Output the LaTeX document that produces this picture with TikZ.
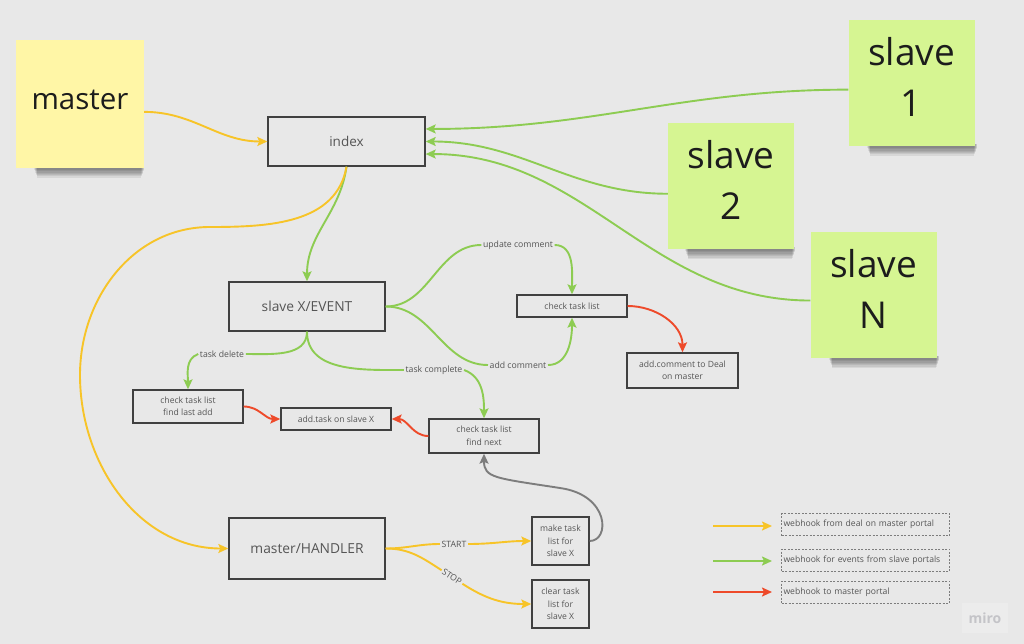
\documentclass[tikz,border=0pt]{standalone}
\usepackage{fontspec}
\setmainfont{Open Sans}
\usetikzlibrary{arrows.meta}
\definecolor{bg}{RGB}{232,232,232}
\definecolor{myyellow}{RGB}{247,196,40}
\definecolor{mygreen}{RGB}{141,204,82}
\definecolor{myred}{RGB}{238,74,42}
\definecolor{mygray}{RGB}{125,125,125}
\definecolor{stickyY}{RGB}{255,246,166}
\definecolor{stickyG}{RGB}{214,245,146}
\definecolor{boxline}{RGB}{64,64,64}
\definecolor{boxtext}{RGB}{85,85,85}
\definecolor{stext}{RGB}{28,28,28}
\begin{document}
\begin{tikzpicture}[x=1pt,y=-1pt,
  tip/.style={-{Stealth[length=10pt,width=9pt,inset=2pt]}},
  conn/.style={line width=1.9pt},
  yline/.style={conn,draw=myyellow},
  gline/.style={conn,draw=mygreen},
  rline/.style={conn,draw=myred},
  grline/.style={conn,draw=mygray},
  ytip/.style={yline,tip,myyellow},
  gtip/.style={gline,tip,mygreen},
  rtip/.style={rline,tip,myred},
  grtip/.style={grline,tip,mygray},
  box/.style={draw=boxline,line width=1.4pt,text=boxtext,align=center,inner sep=0pt},
  bigbox/.style={box,font=\fontsize{13.8}{16}\selectfont},
  smallbox/.style={box,font=\fontsize{8.6}{12.5}\selectfont},
  lbl/.style={fill=bg,inner sep=1.5pt,text=boxtext,font=\fontsize{8.7}{10}\selectfont},
  sticky/.style={minimum width=126pt,minimum height=126pt,inner sep=0pt},
  stxt/.style={text=stext,align=center,inner sep=0pt},
  legbox/.style={draw=mygray,dashed,dash pattern=on 2pt off 1.5pt,line width=0.8pt,minimum width=168pt,minimum height=22pt,
     text width=164pt,align=left,inner xsep=2pt,inner ysep=0pt,text=boxtext,font=\fontsize{8.6}{10}\selectfont}
]
\useasboundingbox[fill=bg] (0,0) rectangle (1024,644);

% sticky shadows
\foreach \sx/\sy in {16/168,849/146,667/249,811/358}{
  \foreach \k in {0,...,6}{
    \fill[black,opacity=0.07] (\sx+18+\k*0.5,\sy-2) rectangle (\sx+128-\k*0.5,\sy+2+\k*1.3);
  }
}
% stickies
\node[sticky,fill=stickyY,minimum width=128pt,minimum height=128pt] (m) at (80,104) {};
\node[stxt,font=\fontsize{29.5}{36}\selectfont] (mt) at (80,100) {master};
\node[sticky,fill=stickyG] (s1) at (911.5,83) {};
\node[stxt,font=\fontsize{37}{51}\selectfont] (s1t) at (911.5,77) {slave\\1};
\node[sticky,fill=stickyG] (s2) at (731,186) {};
\node[stxt,font=\fontsize{37}{51}\selectfont] (s2t) at (731,180) {slave\\2};
\node[sticky,fill=stickyG] (sN) at (873.5,295) {};
\node[stxt,font=\fontsize{37}{51}\selectfont] (sNt) at (873.5,289) {slave\\N};

% boxes
\node[bigbox,minimum width=157pt,minimum height=49pt,font=\fontsize{13.5}{16}\selectfont] (idx) at (346.5,141.5) {index};
\node[bigbox,minimum width=156pt,minimum height=49pt] (ev) at (307,306.5) {slave X/EVENT};
\node[bigbox,minimum width=156pt,minimum height=61pt] (hand) at (307,548.5) {master/HANDLER};
\node[smallbox,minimum width=110pt,minimum height=22pt] (ctl) at (572,306) {check task list};
\node[smallbox,minimum width=111pt,minimum height=35pt] (acd) at (682.5,370.5) {add.comment to Deal\\on master};
\node[smallbox,minimum width=110pt,minimum height=33pt] (fla) at (188,406.5) {check task list\\find last add};
\node[smallbox,minimum width=110pt,minimum height=22pt] (ats) at (336,419) {add.task on slave X};
\node[smallbox,minimum width=110pt,minimum height=34pt] (fn) at (484,436) {check task list\\find next};
\node[smallbox,minimum width=57pt,minimum height=48pt] (mk) at (560.5,541) {make task\\list for\\slave X};
\node[smallbox,minimum width=57pt,minimum height=48pt] (cl) at (560.5,604) {clear task\\list for\\slave X};

% labels
\node[lbl] (uc) at (518,245) {update comment};
\node[lbl] (ac) at (518,365) {add comment};
\node[lbl] (td) at (222,354) {task delete};
\node[lbl] (tc) at (434,370) {task complete};
\node[lbl] (st) at (454,544) {START};
\node[lbl,rotate=-33] (sp) at (452,577) {STOP};

% slaves -> index
\draw[gtip] (s1.186) to[out=180,in=0] (idx.9);
\draw[gtip] (s2.187) to[out=180,in=0] (idx.east);
\draw[gtip] (sN.185) to[out=180,in=0] (idx.351);
% master -> index
\draw[ytip] (m.353) to[out=0,in=180] (idx.west);
% index -> event
\draw[gtip] (idx.south) to[out=-98,in=90] (ev.north);
% index -> handler
\draw[ytip] (idx.south) to[out=-100,in=0] (210,227) to[out=180,in=90] (80,375) to[out=-90,in=180] (hand.west);
% event branches
\draw[gline] (ev.east) to[out=0,in=180] (uc.west);
\draw[gtip] (uc.east) to[out=0,in=90] (ctl.north);
\draw[gline] (ev.east) to[out=0,in=180] (ac.west);
\draw[gtip] (ac.east) to[out=0,in=-90] (ctl.south);
\draw[gline] (ev.south) to[out=-90,in=0] (td.east);
\draw[gtip] (td.west) to[out=200,in=90] (fla.north);
\draw[gline] (ev.south) to[out=-90,in=180] (tc.west);
\draw[gtip] (tc.east) to[out=-20,in=90] (fn.north);
% red
\draw[rtip] (ctl.east) to[out=0,in=90] (acd.north);
\draw[rtip] (fla.east) to[out=0,in=180] (ats.west);
\draw[rtip] (fn.west) to[out=180,in=0] (ats.east);
% gray
\draw[grtip] (mk.east) .. controls (610,541) and (610,495) .. (560,488) .. controls (495,478) and (484,478) .. (fn.south);
% handler -> start/stop
\draw[yline] (hand.east) to[out=0,in=180] (st.west);
\draw[ytip] (st.east) to[out=0,in=180] (mk.west);
\draw[yline] (hand.east) to[out=0,in=147] (sp.west);
\draw[ytip] (sp.east) to[out=-33,in=180] (cl.west);

% legend
\node[legbox] (lg1) at (865.5,524.5) {webhook from deal on master portal};
\node[legbox] (lg2) at (865.5,560) {webhook for events from slave portals};
\node[legbox] (lg3) at (865.5,592) {webhook to master portal};
\coordinate (la1) at (713,526); \coordinate (lb1) at (772,526);
\coordinate (la2) at (713,561); \coordinate (lb2) at (772,561);
\coordinate (la3) at (713,592); \coordinate (lb3) at (772,592);
\draw[ytip] (la1) -- (lb1);
\draw[gtip] (la2) -- (lb2);
\draw[rtip] (la3) -- (lb3);

% watermark
\node[fill={rgb,255:red,236;green,236;blue,236},minimum width=46pt,minimum height=30pt,inner sep=0pt,
  text={rgb,255:red,196;green,196;blue,200},font=\fontsize{14}{14}\selectfont\bfseries] (miro) at (985,618) {miro};
\end{tikzpicture}
\end{document}
